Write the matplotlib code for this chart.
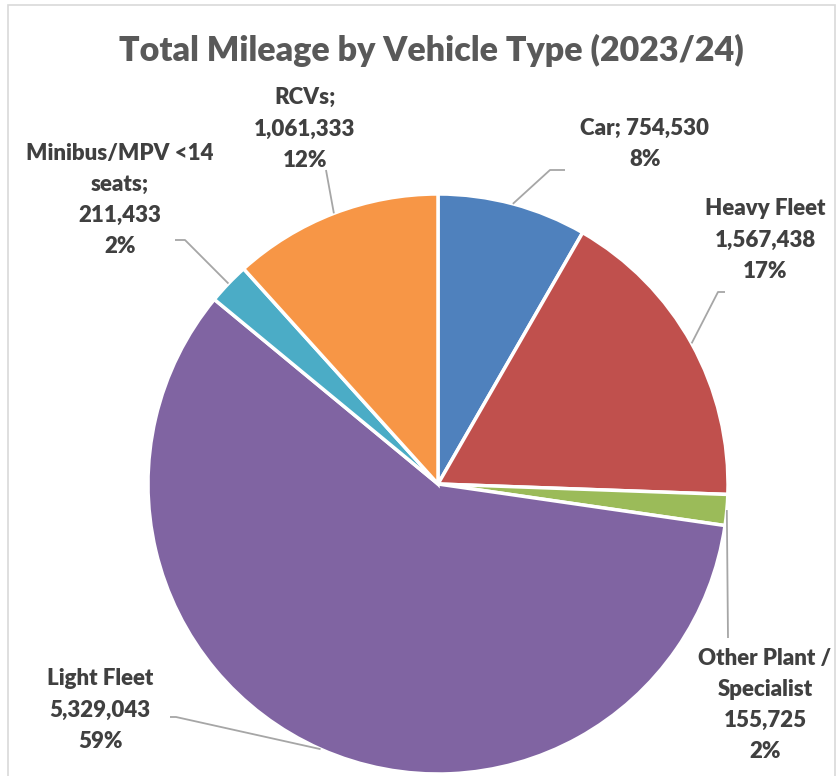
import matplotlib.pyplot as plt
from matplotlib.patches import Rectangle
import numpy as np

plt.rcParams['font.family'] = ['Lato', 'DejaVu Sans']

# data
categories = ["Car", "Heavy Fleet", "Other Plant /\nSpecialist", "Light Fleet",
              "Minibus/MPV <14\nseats;", "RCVs;"]
mileage = [754530, 1567438, 155725, 5329043, 211433, 1061333]
colors = ["#4F81BD", "#C0504D", "#9BBB59", "#8064A2", "#4BACC6", "#F79646"]

W, H = 840, 776
fig = plt.figure(figsize=(W / 100, H / 100), dpi=100)
ax = fig.add_axes([0, 0, 1, 1])

cx, cy, r = 438, H - 484, 290
wedges, _ = ax.pie(mileage, colors=colors, startangle=90, counterclock=False,
                   center=(cx, cy), radius=r,
                   wedgeprops=dict(edgecolor="white", linewidth=2.5))
ax.set_xlim(0, W)
ax.set_ylim(0, H)
ax.set_aspect("equal")
ax.axis("off")

total = sum(mileage)
pcts = [v / total * 100 for v in mileage]


def lbl(i, sep="\n"):
    name = categories[i]
    return f"{name}{sep}{mileage[i]:,}\n{pcts[i]:.0f}%"


# label text, text centre (px from top), leader elbow points (px from top)
label_layout = [
    (f"{categories[0]}; {mileage[0]:,}\n{pcts[0]:.0f}%", (645, 144), [(565, 170), (550, 170)]),
    (lbl(1), (765, 240), [(725, 292), (718, 292)]),
    (lbl(2), (765, 705), [(728, 638)]),
    (lbl(3), (100, 710), [(170, 717), (176, 717)]),
    (lbl(4), (120, 200), [(175, 240), (185, 240)]),
    (lbl(5), (305, 129), [(326, 170)]),
]

cum = 0
for i, (txt, (tx, ty), pts) in enumerate(label_layout):
    mid = 90 - (cum + pcts[i] / 2) * 3.6
    cum += pcts[i]
    ax_ = cx + r * np.cos(np.radians(mid))
    ay_ = cy + r * np.sin(np.radians(mid))
    xs = [p[0] for p in pts] + [ax_]
    ys = [H - p[1] for p in pts] + [ay_]
    ax.plot(xs, ys, color="#A6A6A6", lw=1.3, solid_capstyle="butt")
    ax.text(tx, H - ty, txt, ha="center", va="center", fontsize=16,
            fontweight="heavy", color="#404040", linespacing=1.6)

ax.text(431, H - 50, "Total Mileage by Vehicle Type (2023/24)", ha="center",
        va="center", fontsize=24.5, fontweight="heavy", color="#595959")

fig.patches.append(Rectangle((8 / W, -0.01), (835 - 8) / W, (H - 5) / H + 0.01,
                             transform=fig.transFigure, fill=False,
                             edgecolor="#D9D9D9", lw=1.2))

fig.savefig("out.png", dpi=100)
